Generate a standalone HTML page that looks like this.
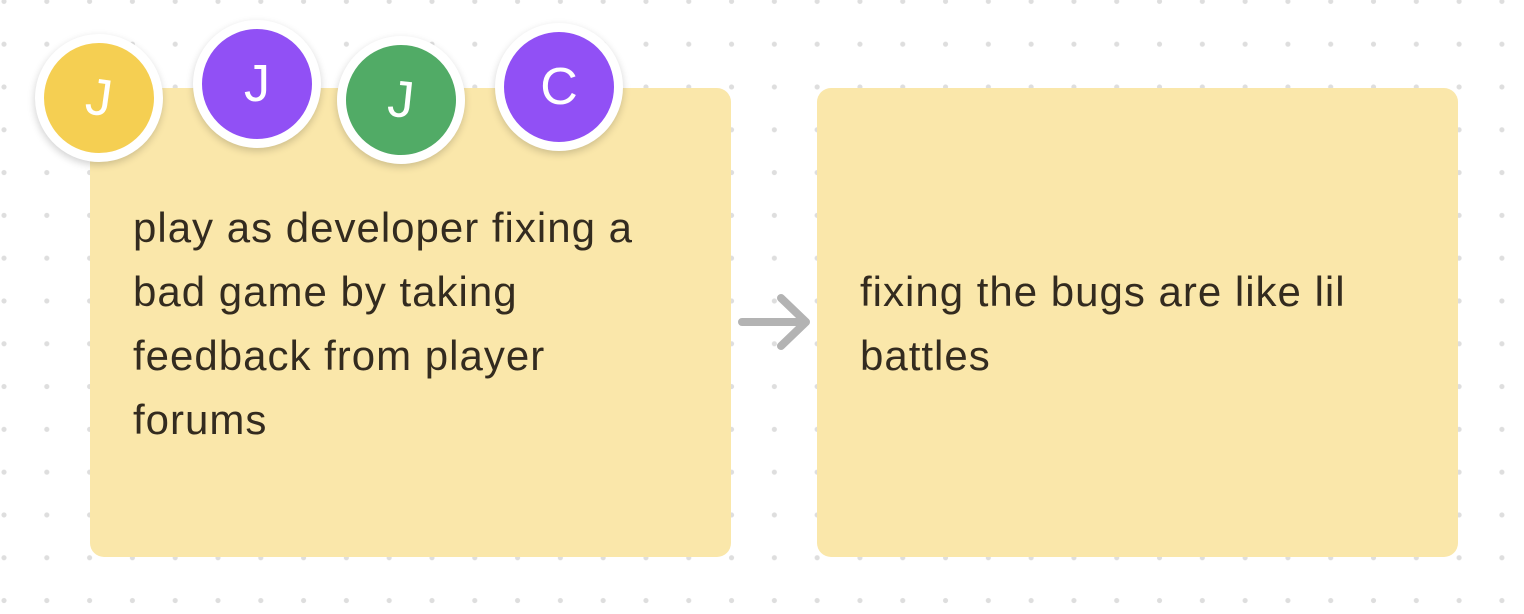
<!DOCTYPE html>
<html><head><style>
body{margin:0;width:1524px;height:614px;overflow:hidden;background:#fff;position:relative;font-family:"Liberation Sans",sans-serif;}
.bg{position:absolute;left:0;top:0;width:1524px;height:614px;background-image:radial-gradient(circle,#dedede 2.3px,transparent 2.8px);background-size:42.8px 42.8px;background-position:-17.4px -20px;}
.card{position:absolute;top:88px;height:469px;width:641px;background:#fae7aa;border-radius:14px;}
.txt{position:absolute;font-size:42px;letter-spacing:1px;line-height:64px;color:#332b1f;}
.av{position:absolute;width:110px;height:110px;border-radius:50%;border:9px solid #fff;box-shadow:0 3px 8px rgba(0,0,0,0.18);color:#fff;font-size:52px;text-align:center;line-height:110px;}
</style></head><body>
<div class="bg"></div>
<div class="card" style="left:90px"></div>
<div class="card" style="left:817px"></div>
<div class="txt" style="left:133px;top:196px">play as developer fixing a<br>bad game by taking<br>feedback from player<br>forums</div>
<div class="txt" style="left:860px;top:260px">fixing the bugs are like lil<br>battles</div>
<svg style="position:absolute;left:0;top:0" width="1524" height="614"><path d="M742 322 H806 M781 298 L806 322 L781 346" stroke="#b3b3b3" stroke-width="8" fill="none" stroke-linecap="round" stroke-linejoin="round"/></svg>
<div class="av" style="left:35px;top:34px;background:#f5cf52;transform:rotate(8deg)">J</div>
<div class="av" style="left:193px;top:20px;background:#9150f5">J</div>
<div class="av" style="left:337px;top:36px;background:#51ab66;transform:rotate(6deg)">J</div>
<div class="av" style="left:495px;top:23px;background:#9150f5">C</div>
</body></html>
